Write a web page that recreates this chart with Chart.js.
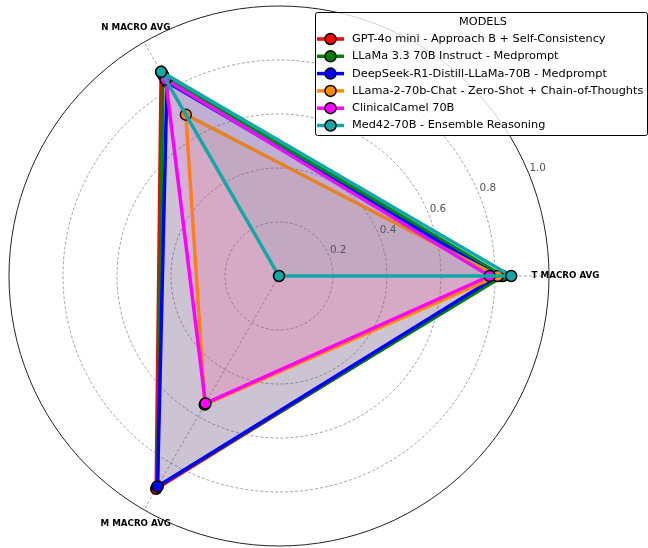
<!DOCTYPE html>
<html>
<head>
<meta charset="utf-8">
<script src="https://cdn.jsdelivr.net/npm/chart.js@4"></script>
<style>
  html, body { margin: 0; padding: 0; background: #fff; }
</style>
</head>
<body>
<canvas id="radarChart" width="648" height="548"></canvas>
<script>
// axes in clockwise order starting from the right
const axes = ["T MACRO AVG", "M MACRO AVG", "N MACRO AVG"];
const models = [
  "GPT-4o mini - Approach B + Self-Consistency",
  "LLaMa 3.3 70B Instruct - Medprompt",
  "DeepSeek-R1-Distill-LLaMa-70B - Medprompt",
  "LLama-2-70b-Chat - Zero-Shot + Chain-of-Thoughts",
  "ClinicalCamel 70B",
  "Med42-70B - Ensemble Reasoning"
];
const tMacro = [0.82, 0.83, 0.81, 0.81, 0.78, 0.86];
const mMacro = [0.91, 0.90, 0.90, 0.55, 0.545, 0.0];
const nMacro = [0.873, 0.86, 0.83, 0.69, 0.84, 0.873];
const tickLabels = ["0.2", "0.4", "0.6", "0.8", "1.0"];
const colors = ["#ff0000", "#008000", "#0000ff", "#ff8c00", "#ff00ff", "#13a8a8"];

const FONT = "'DejaVu Sans', Verdana, sans-serif";

function rgba(hex, a) {
  const n = parseInt(hex.slice(1), 16);
  return "rgba(" + (n >> 16) + "," + ((n >> 8) & 255) + "," + (n & 255) + "," + a + ")";
}

// tick labels and axis names, drawn where matplotlib puts them
const labelsPlugin = {
  id: "labels",
  afterDatasetsDraw(chart) {
    const ctx = chart.ctx;
    const r = chart.scales.r;
    const R = r.getDistanceFromCenterForValue(1);
    ctx.save();
    ctx.fillStyle = "#555";
    ctx.font = "10.4px " + FONT;
    ctx.textAlign = "left";
    ctx.textBaseline = "alphabetic";
    const ang = 22.5 * Math.PI / 180;
    tickLabels.forEach(t => {
      const d = r.getDistanceFromCenterForValue(parseFloat(t));
      const x = r.xCenter + Math.cos(ang) * d;
      const y = r.yCenter - Math.sin(ang) * d;
      ctx.fillText(t, x + 1, y - 2);
    });
    ctx.fillStyle = "#000";
    ctx.font = "bold 8.7px " + FONT;
    ctx.textAlign = "center";
    ctx.textBaseline = "middle";
    chart.data.labels.forEach((lab, i) => {
      const p = r.getPointPosition(i, R + 16.5);
      ctx.fillText(lab, p.x, p.y);
    });
    ctx.restore();
  }
};

// matplotlib-style legend box overlapping the top right
const legendPlugin = {
  id: "mplLegend",
  afterDraw(chart) {
    const ctx = chart.ctx;
    const x = 315, y = 12, w = 332, h = 123;
    ctx.save();
    ctx.beginPath();
    ctx.roundRect(x + 0.5, y + 0.5, w, h, 2);
    ctx.fillStyle = "rgba(255,255,255,0.8)";
    ctx.fill();
    ctx.strokeStyle = "#000";
    ctx.lineWidth = 1;
    ctx.stroke();
    ctx.fillStyle = "#000";
    ctx.font = "11.3px " + FONT;
    ctx.textAlign = "center";
    ctx.textBaseline = "middle";
    ctx.fillText("MODELS", 483, 22);
    ctx.textAlign = "left";
    chart.data.datasets.forEach((ds, i) => {
      const yy = 39 + i * 17.3;
      ctx.strokeStyle = ds.borderColor;
      ctx.lineWidth = 3.5;
      ctx.beginPath();
      ctx.moveTo(317, yy);
      ctx.lineTo(344, yy);
      ctx.stroke();
      ctx.beginPath();
      ctx.arc(330.5, yy, 5.5, 0, Math.PI * 2);
      ctx.fillStyle = ds.borderColor;
      ctx.fill();
      ctx.lineWidth = 1.5;
      ctx.strokeStyle = "#000";
      ctx.stroke();
      ctx.fillStyle = "#000";
      ctx.fillText(ds.label, 352, yy);
    });
    ctx.restore();
  }
};

new Chart(document.getElementById("radarChart"), {
  type: "radar",
  data: {
    labels: axes,
    datasets: models.map((m, i) => ({
      label: m,
      data: [tMacro[i], mMacro[i], nMacro[i]],
      borderColor: colors[i],
      backgroundColor: rgba(colors[i], 0.1),
      fill: true,
      borderWidth: 3.5,
      borderJoinStyle: "round",
      pointRadius: 5.5,
      pointHoverRadius: 5.5,
      pointBorderWidth: 1.5,
      pointBorderColor: "#000",
      pointBackgroundColor: colors[i],
      order: models.length - i
    }))
  },
  options: {
    responsive: false,
    animation: false,
    events: [],
    layout: { padding: { left: 9, top: 6, right: 99, bottom: 2 } },
    plugins: { legend: { display: false }, tooltip: { enabled: false } },
    scales: {
      r: {
        min: 0,
        max: 1,
        startAngle: 90,
        ticks: { display: false, stepSize: 0.2 },
        pointLabels: { display: false },
        grid: {
          circular: true,
          color: c => (c.tick && c.tick.value > 0.99 ? "#222" : "rgba(0,0,0,0.45)"),
          lineWidth: c => (c.tick && c.tick.value > 0.99 ? 1 : 0.8)
        },
        border: { dash: c => (c.tick && c.tick.value > 0.99 ? [] : [3, 2]) },
        angleLines: { color: "rgba(0,0,0,0.45)", lineWidth: 0.8, borderDash: [3, 2] }
      }
    }
  },
  plugins: [labelsPlugin, legendPlugin]
});
</script>
</body>
</html>
